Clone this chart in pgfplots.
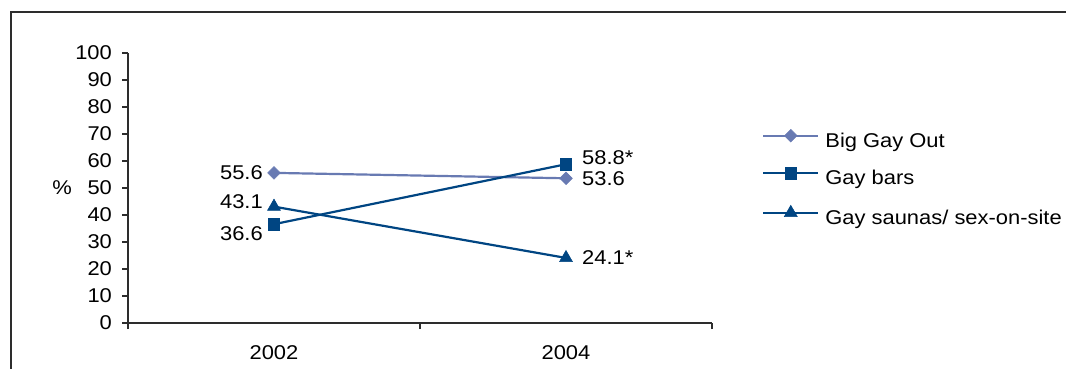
\documentclass[border=0pt]{standalone}
\usepackage{graphicx}
\usepackage{pgfplots}
\pgfplotsset{compat=1.18}
\usepackage{fontspec}
\setmainfont{Liberation Sans}
\definecolor{lightser}{RGB}{104,122,178}
\definecolor{darkser}{RGB}{0,69,130}
\definecolor{axgray}{RGB}{45,45,45}

\newcommand{\stretchtxt}[1]{\scalebox{1.1}[1]{#1}}
\pgfplotsset{
  lbl/.style n args={3}{
    draw=none, mark=none, forget plot,
    nodes near coords,
    point meta=explicit symbolic,
    nodes near coords style={anchor=#1, xshift=#2, yshift=#3, inner sep=0pt, text=black, xscale=1.1},
  }
}

\begin{document}
\fontsize{20}{23}\selectfont
\begin{tikzpicture}
\useasboundingbox (0,0) rectangle (1066bp,369bp);
\draw[line width=1.5bp, color=axgray] (11bp,0) -- (11bp,357bp) -- (1066bp,357bp);
\begin{axis}[
  at={(128bp,46bp)}, anchor=south west,
  scale only axis, width=584bp, height=270bp,
  xmin=0.5, xmax=2.5, ymin=0, ymax=100,
  axis x line*=bottom, axis y line*=left,
  axis line style={-, line width=1.4bp, color=axgray},
  every tick/.style={line width=1.4bp, color=axgray},
  tick align=outside, major tick length=6bp,
  xtick={0.5,1.5,2.5}, xticklabels={},
  extra x ticks={1,2}, extra x tick labels={2002,2004},
  extra x tick style={major tick length=0pt, xticklabel style={inner sep=0pt, yshift=-22bp}},
  ytick={0,10,...,100},
  yticklabel style={inner sep=0pt, xshift=-9bp},
  every tick label/.append style={xscale=1.1},
  /pgf/number format/assume math mode=true,
  ylabel={\%},
  ylabel style={rotate=-90, at={(axis description cs:-0.113,0.5)}, anchor=center, xscale=1.1},
  clip=false,
  legend style={at={(axis description cs:1.0856,0.718)}, anchor=north west,
    draw=none, fill=none, inner sep=0pt, row sep=16.5bp, column sep=6bp,
    nodes={inner sep=0pt, text height=15bp, text depth=4bp}},
  legend cell align=left,
  legend image code/.code={
    \draw[#1, mark repeat=2, mark phase=2] plot coordinates {(0bp,6bp)(27.5bp,6bp)(55bp,6bp)};
  },
]
\addplot[color=lightser, line width=2.2bp, mark=square*, mark size=4.5bp,
  mark options={rotate=45, solid, line width=0.5bp}]
  coordinates {(1,55.6) (2,53.6)};
\addlegendentry{\stretchtxt{Big Gay Out}}
\addplot[color=darkser, line width=2.2bp, mark=square*, mark size=5.6bp,
  mark options={solid, line width=0.5bp}]
  coordinates {(1,36.6) (2,58.8)};
\addlegendentry{\stretchtxt{Gay bars}}
\addplot[color=darkser, line width=2.2bp, mark=triangle*, mark size=7.5bp,
  mark options={solid, line width=0.5bp}]
  coordinates {(1,43.1) (2,24.1)};
\addlegendentry{\stretchtxt{Gay saunas/ sex-on-site}}
% data labels
\addplot[lbl={east}{-11bp}{0bp}] coordinates {(1,55.6) [55.6]};
\addplot[lbl={west}{16bp}{0bp}] coordinates {(2,53.6) [53.6]};
\addplot[lbl={east}{-11bp}{-9bp}] coordinates {(1,36.6) [36.6]};
\addplot[lbl={west}{16bp}{7bp}] coordinates {(2,58.8) [58.8*]};
\addplot[lbl={east}{-11bp}{5bp}] coordinates {(1,43.1) [43.1]};
\addplot[lbl={west}{16bp}{0bp}] coordinates {(2,24.1) [24.1*]};
\end{axis}
\end{tikzpicture}
\end{document}
